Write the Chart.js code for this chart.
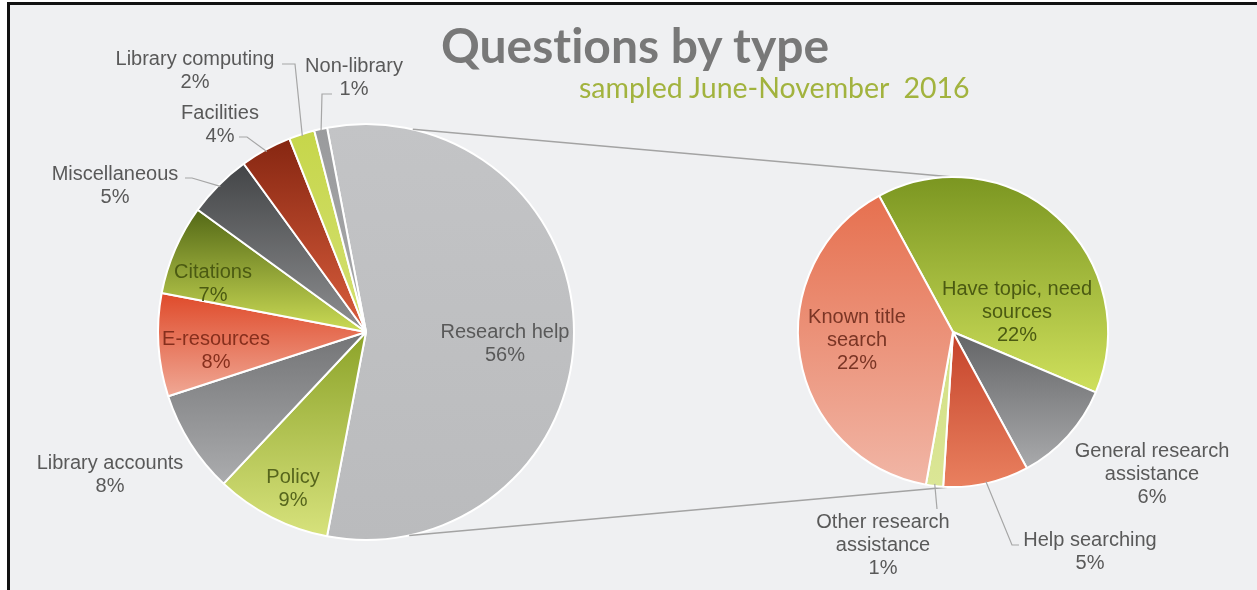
<!DOCTYPE html>
<html>
<head>
<meta charset="utf-8">
<script src="https://cdn.jsdelivr.net/npm/chart.js@4.4.0/dist/chart.umd.min.js"></script>
<style>
  body { margin: 0; background: #ffffff; width: 1257px; height: 590px; overflow: hidden; position: relative; }
  #panel { position: absolute; left: 7px; top: 2px; right: 0; bottom: 0;
           border-top: 3px solid #111; border-left: 3px solid #111; background: #eff0f2; }
  canvas { position: absolute; left: 0; top: 0; }
  .title { position: absolute; left: 441px; top: 21px; font: bold 48px Lato, "Open Sans", sans-serif;
           line-height: 1; color: #787878; white-space: pre; font-variant-ligatures: none; }
  .sub { position: absolute; left: 579px; top: 73px; font: 28.5px Lato, "Open Sans", sans-serif;
         line-height: 1; color: #a2b33e; white-space: pre; font-variant-ligatures: none; }
</style>
</head>
<body>
<div id="panel"></div>
<canvas id="mainPie" width="1257" height="590"></canvas>
<canvas id="subPie" width="1257" height="590"></canvas>
<div class="title">Questions by type</div>
<div class="sub">sampled June-November  2016</div>
<script>
// data
const mainLabels = ['Research help', 'Policy', 'Library accounts', 'E-resources', 'Citations',
                    'Miscellaneous', 'Facilities', 'Library computing', 'Non-library'];
const mainValues = [56, 9, 8, 8, 7, 5, 4, 2, 1];

const subLabels = ['Have topic, need sources', 'General research assistance', 'Help searching',
                   'Other research assistance', 'Known title search'];
const subValues = [22, 6, 5, 1, 22];

// colours (gradient top -> bottom of each slice)
const mainTop    = ['#c3c4c6', '#8ca329', '#737476', '#df4a2a', '#536816', '#434547', '#862611', '#c6d64a', '#9a9b9d'];
const mainBottom = ['#babbbd', '#d7e27c', '#abacae', '#f0a895', '#cbdb55', '#8e8f91', '#da5e3d', '#d4e072', '#a6a7a9'];
const subTop     = ['#7b9621', '#636466', '#c5432a', '#d2df82', '#e6704f'];
const subBottom  = ['#cfe05c', '#a9aaac', '#e9805f', '#dbe696', '#f1b6a6'];

// label layout: text lines, offset from pie centre, colour, optional leader
const mainLabelLayout = [
  { lines: ['Research help', '56%'], at: [139, 12], color: '#595959' },
  { lines: ['Policy', '9%'], at: [-73, 157], color: '#56651c' },
  { lines: ['Library accounts', '8%'], at: [-256, 143], color: '#595959' },
  { lines: ['E-resources', '8%'], at: [-150, 19], color: '#862f1d' },
  { lines: ['Citations', '7%'], at: [-153, -48], color: '#4b5a12' },
  { lines: ['Miscellaneous', '5%'], at: [-251, -146], color: '#595959', from: [-181, -154], elbow: [-174, -154] },
  { lines: ['Facilities', '4%'], at: [-146, -207], color: '#595959', from: [-127, -195], elbow: [-119, -195] },
  { lines: ['Library computing', '2%'], at: [-171, -261], color: '#595959', from: [-84, -268], elbow: [-71, -268] },
  { lines: ['Non-library', '1%'], at: [-12, -254], color: '#595959', from: [-34, -238], elbow: [-44, -238] }
];
const subLabelLayout = [
  { lines: ['Have topic, need', 'sources', '22%'], at: [64, -20], color: '#4b5a12' },
  { lines: ['General research', 'assistance', '6%'], at: [199, 142], color: '#595959' },
  { lines: ['Help searching', '5%'], at: [137, 220], color: '#595959', from: [66, 213], elbow: [59, 213] },
  { lines: ['Other research', 'assistance', '1%'], at: [-70, 213], color: '#595959', from: [-16, 177], elbow: [-16, 177] },
  { lines: ['Known title', 'search', '22%'], at: [-96, 8], color: '#7a3525' }
];

const mainRotation = -10.8;
const subRotation = -28.5;
const mainRadius = 208;
const subRadius = 155;

function sliceGradient(ctx, values, rotation, radius, tops, bottoms) {
  const i = ctx.dataIndex;
  const chart = ctx.chart;
  const area = chart.chartArea;
  if (!area || i === undefined) return tops[i] || '#cccccc';
  const cx = (area.left + area.right) / 2;
  const cy = (area.top + area.bottom) / 2;
  const total = values.reduce((a, b) => a + b, 0);
  let before = 0;
  for (let k = 0; k < i; k++) before += values[k];
  const a0 = rotation - 90 + before / total * 360;
  const a1 = a0 + values[i] / total * 360;
  const rad = d => d * Math.PI / 180;
  const ys = [cy, cy + radius * Math.sin(rad(a0)), cy + radius * Math.sin(rad(a1))];
  for (let q = Math.ceil(a0 / 90) * 90; q < a1; q += 90) ys.push(cy + radius * Math.sin(rad(q)));
  const g = chart.ctx.createLinearGradient(0, Math.min(...ys), 0, Math.max(...ys) + 0.01);
  g.addColorStop(0, tops[i]);
  g.addColorStop(1, bottoms[i]);
  return g;
}

function makeLabelPlugin(layout) {
  return {
    id: 'sliceLabels',
    afterDatasetsDraw(chart) {
      const arcs = chart.getDatasetMeta(0).data;
      const c = chart.ctx;
      const cx = arcs[0].x, cy = arcs[0].y;
      c.save();
      c.font = '20px "Liberation Sans", Arial, sans-serif';
      c.textAlign = 'center';
      c.textBaseline = 'middle';
      layout.forEach((lab, i) => {
        const arc = arcs[i];
        if (lab.from) {
          const mid = (arc.startAngle + arc.endAngle) / 2;
          c.strokeStyle = '#a6a6a6';
          c.lineWidth = 1.2;
          c.beginPath();
          c.moveTo(cx + lab.from[0], cy + lab.from[1]);
          c.lineTo(cx + lab.elbow[0], cy + lab.elbow[1]);
          c.lineTo(cx + Math.cos(mid) * (arc.outerRadius - 2), cy + Math.sin(mid) * (arc.outerRadius - 2));
          c.stroke();
        }
        c.fillStyle = lab.color;
        const lh = 23;
        const y0 = cy + lab.at[1] - (lab.lines.length - 1) * lh / 2;
        lab.lines.forEach((t, k) => c.fillText(t, cx + lab.at[0], y0 + k * lh));
      });
      c.restore();
    }
  };
}

function pieOptions(rotation, radius, padding) {
  return {
    responsive: false,
    animation: false,
    events: [],
    rotation: rotation,
    radius: radius,
    layout: { padding: padding },
    plugins: { legend: { display: false }, tooltip: { enabled: false }, title: { display: false } }
  };
}

const mainChart = new Chart(document.getElementById('mainPie'), {
  type: 'pie',
  data: {
    labels: mainLabels,
    datasets: [{
      data: mainValues,
      backgroundColor: ctx => sliceGradient(ctx, mainValues, mainRotation, mainRadius, mainTop, mainBottom),
      borderColor: '#ffffff',
      borderWidth: 2,
      hoverOffset: 0
    }]
  },
  options: pieOptions(mainRotation, mainRadius, { left: 159, right: 684, top: 125, bottom: 51 }),
  plugins: [makeLabelPlugin(mainLabelLayout)]
});

// lines joining the big slice to the second pie
const connectorPlugin = {
  id: 'connectors',
  beforeDatasetsDraw(chart) {
    const a = mainChart.getDatasetMeta(0).data[0];
    const b = chart.getDatasetMeta(0).data[0];
    const pt = (arc, deg) => [arc.x + Math.cos(deg * Math.PI / 180) * arc.outerRadius,
                              arc.y + Math.sin(deg * Math.PI / 180) * arc.outerRadius];
    const c = chart.ctx;
    c.save();
    c.strokeStyle = '#a3a3a3';
    c.lineWidth = 1.5;
    [[-77, -90], [78, 91]].forEach(([d1, d2]) => {
      const p = pt(a, d1), q = pt(b, d2);
      c.beginPath();
      c.moveTo(p[0], p[1]);
      c.lineTo(q[0], q[1]);
      c.stroke();
    });
    c.restore();
  }
};

new Chart(document.getElementById('subPie'), {
  type: 'pie',
  data: {
    labels: subLabels,
    datasets: [{
      data: subValues,
      backgroundColor: ctx => sliceGradient(ctx, subValues, subRotation, subRadius, subTop, subBottom),
      borderColor: '#ffffff',
      borderWidth: 2,
      hoverOffset: 0
    }]
  },
  options: pieOptions(subRotation, subRadius, { left: 798, right: 149, top: 177, bottom: 103 }),
  plugins: [connectorPlugin, makeLabelPlugin(subLabelLayout)]
});
</script>
</body>
</html>
